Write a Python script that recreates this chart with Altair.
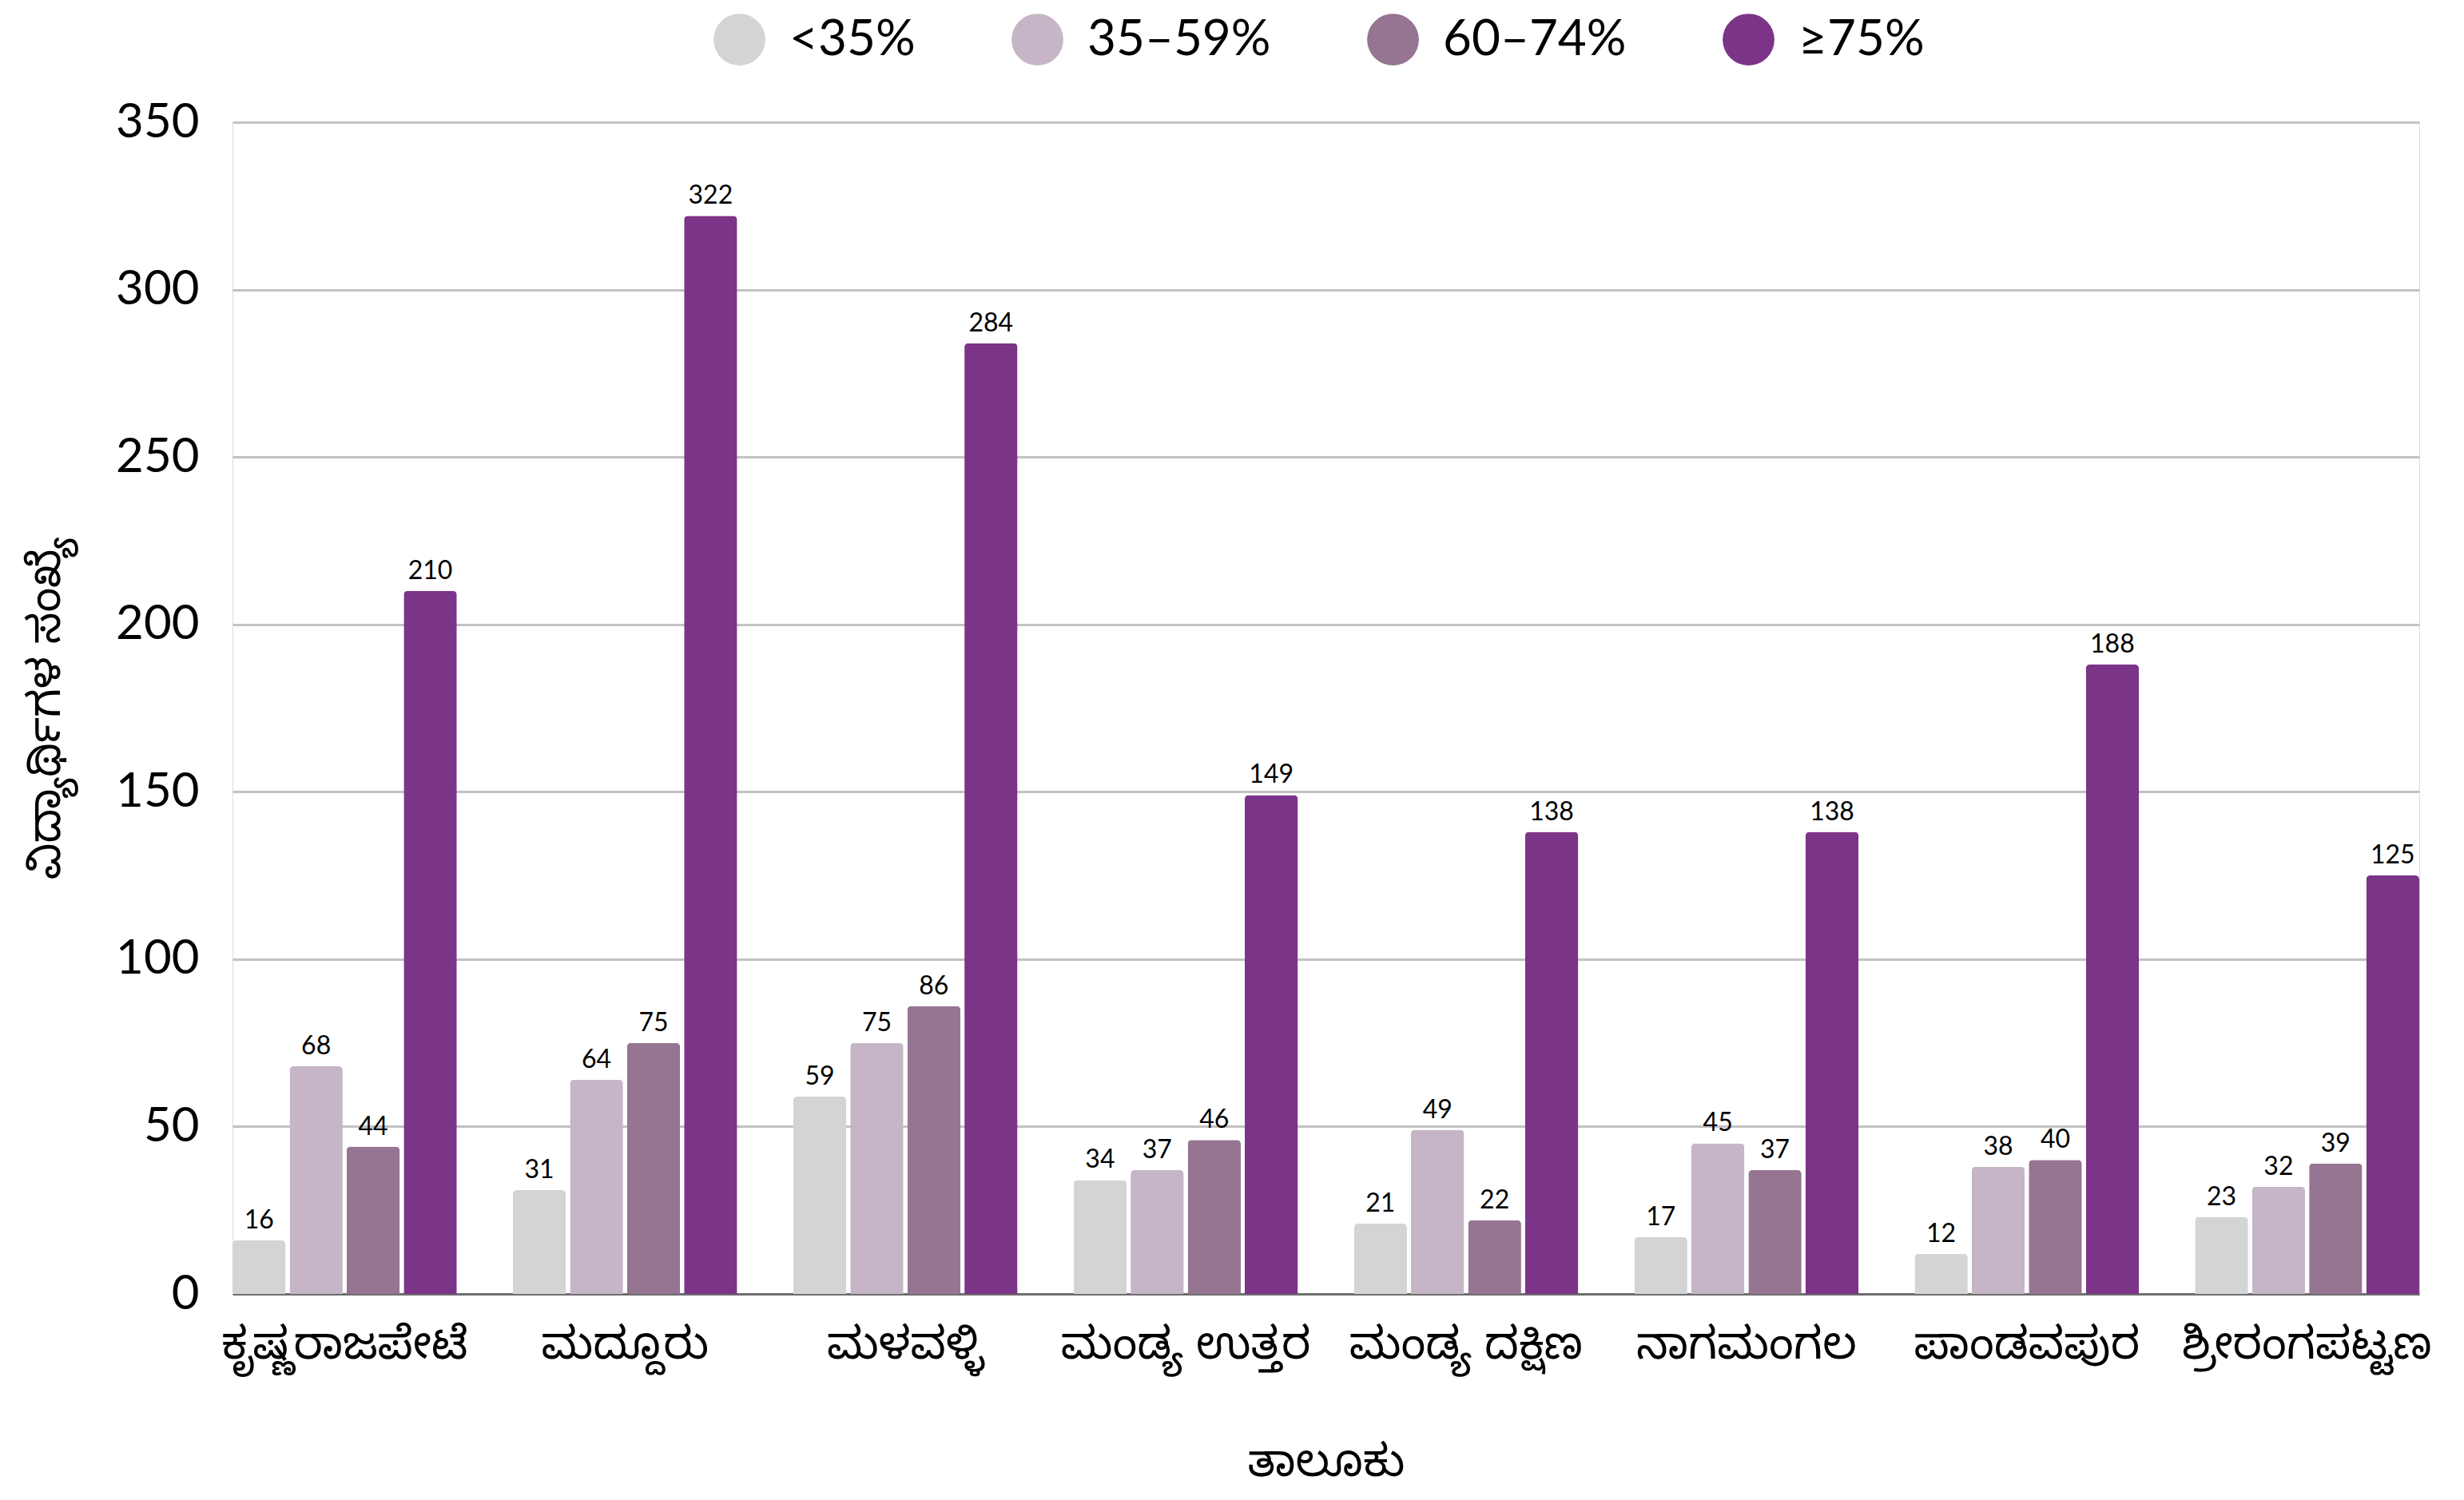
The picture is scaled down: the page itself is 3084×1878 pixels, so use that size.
import altair as alt
import pandas as pd

taluks = ["ಕೃಷ್ಣರಾಜಪೇಟೆ", "ಮದ್ದೂರು", "ಮಳವಳ್ಳಿ", "ಮಂಡ್ಯ ಉತ್ತರ",
          "ಮಂಡ್ಯ ದಕ್ಷಿಣ", "ನಾಗಮಂಗಲ", "ಪಾಂಡವಪುರ", "ಶ್ರೀರಂಗಪಟ್ಟಣ"]
groups = ["<35%", "35–59%", "60–74%", "≥75%"]
colors = ["#d3d4d6", "#c6b5c6", "#957592", "#7b3487"]

below35 = [16, 31, 59, 34, 21, 17, 12, 23]
p35_59 = [68, 64, 75, 37, 49, 45, 38, 32]
p60_74 = [44, 75, 86, 46, 22, 37, 40, 39]
above75 = [210, 322, 284, 149, 138, 138, 188, 125]

series = [below35, p35_59, p60_74, above75]
rows = []
for g, vals in zip(groups, series):
    for t, v in zip(taluks, vals):
        rows.append({"taluk": t, "group": g, "count": v})
df = pd.DataFrame(rows)

FONT = "Lato"
KFONT = "Noto Sans Kannada, Noto Sans, Lato"

x = alt.X("taluk:N", sort=taluks,
          scale=alt.Scale(paddingInner=0.2, paddingOuter=0),
          axis=alt.Axis(title="ತಾಲೂಕು", labelAngle=0, ticks=False,
                        domainColor="#6e6e6e", domainWidth=3, labelLimit=0,
                        labelFont=KFONT, labelFontSize=56, labelColor="#000000",
                        labelPadding=36, titleFont=KFONT, titleFontSize=56,
                        titleFontWeight="normal", titleColor="#000000",
                        titlePadding=92))
xo = alt.XOffset("group:N", sort=groups,
                 scale=alt.Scale(paddingInner=0.07, paddingOuter=0))
y = alt.Y("count:Q", scale=alt.Scale(domain=[0, 350]),
          axis=alt.Axis(title="ವಿದ್ಯಾರ್ಥಿಗಳ ಸಂಖ್ಯೆ", values=[0, 50, 100, 150, 200, 250, 300, 350],
                        ticks=False, domain=False, gridColor="#c2c2c2", gridWidth=3,
                        labelFont=FONT, labelFontSize=60, labelColor="#000000",
                        labelPadding=42, titleFont=KFONT, titleFontSize=56,
                        titleFontWeight="normal", titleColor="#000000",
                        titlePadding=58))

color = alt.Color("group:N", sort=groups,
                  scale=alt.Scale(domain=groups, range=colors),
                  legend=alt.Legend(title=None, orient="none", direction="horizontal",
                                    legendX=602, legendY=-136,
                                    symbolType="circle", symbolSize=4200,
                                    symbolStrokeWidth=0, labelFont=FONT,
                                    labelFontSize=62, labelColor="#000000",
                                    labelLimit=0, labelOffset=30, columnPadding=120))

bars = alt.Chart(df).mark_bar(cornerRadiusTopLeft=5, cornerRadiusTopRight=5).encode(
    x=x, xOffset=xo, y=y, color=color)

labels = alt.Chart(df).mark_text(baseline="bottom", dy=-8, font=FONT,
                                 fontSize=32, color="#000000").encode(
    x=alt.X("taluk:N", sort=taluks), xOffset=alt.XOffset("group:N", sort=groups),
    y="count:Q", text="count:Q")

chart = alt.layer(bars, labels).properties(
    width=2737, height=1467,
    autosize=alt.AutoSizeParams(type="none"),
    padding={"left": 283, "top": 145, "right": 48, "bottom": 258},
).configure_view(stroke="transparent", strokeWidth=0).configure(background="#ffffff")

chart.save("out.html", embed_options={"renderer": "svg", "actions": False})
